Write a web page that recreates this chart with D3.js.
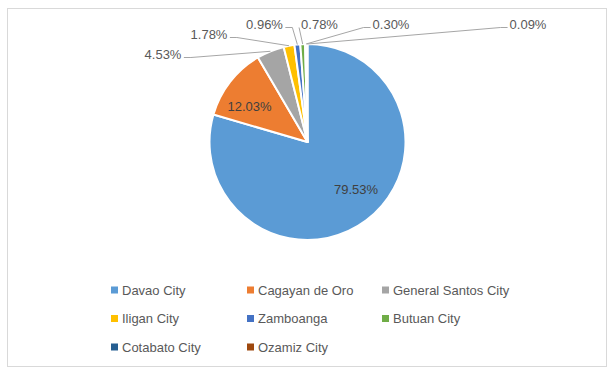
<!DOCTYPE html>
<html>
<head>
<meta charset="utf-8">
<script src="https://cdn.jsdelivr.net/npm/d3@7/dist/d3.min.js"></script>
<style>
  html, body { margin: 0; padding: 0; background: #ffffff; }
  svg { display: block; font-family: "Liberation Sans", Arial, sans-serif; }
</style>
</head>
<body>
<svg id="chart" width="616" height="375"></svg>
<script>
// ---- data ----
const categories = ["Davao City", "Cagayan de Oro", "General Santos City", "Iligan City",
                    "Zamboanga", "Butuan City", "Cotabato City", "Ozamiz City"];
const shares = [79.53, 12.03, 4.53, 1.78, 0.96, 0.78, 0.30, 0.09];
const valueLabels = ["79.53%", "12.03%", "4.53%", "1.78%", "0.96%", "0.78%", "0.30%", "0.09%"];
const colors = ["#5b9bd5", "#ed7d31", "#a5a5a5", "#ffc000", "#4472c4", "#70ad47", "#255e91", "#9e480e"];

// ---- layout (label placement, not data) ----
const W = 616, H = 375;
const cx = 307.5, cy = 142, R = 98;
const labelLayout = [
  { x: 356, y: 189, side: "in" },
  { x: 249.5, y: 106, side: "in" },
  { x: 163, y: 54, side: "right" },
  { x: 209, y: 34, side: "right" },
  { x: 264.5, y: 24, side: "right" },
  { x: 319.5, y: 24, side: "left" },
  { x: 391, y: 24, side: "left" },
  { x: 528, y: 24, side: "left" }
];

const svg = d3.select("#chart");

svg.append("rect")
  .attr("x", 7.5).attr("y", 8.5)
  .attr("width", 599).attr("height", 358)
  .attr("fill", "#ffffff")
  .attr("stroke", "#d9d9d9").attr("stroke-width", 1);

const pie = d3.pie().sort(null).value(d => d)
  .startAngle(0).endAngle(2 * Math.PI);
const arcs = pie(shares);
const arc = d3.arc().innerRadius(0).outerRadius(R);

const g = svg.append("g").attr("transform", `translate(${cx},${cy})`);
g.selectAll("path.slice")
  .data(arcs)
  .join("path")
  .attr("class", "slice")
  .attr("d", arc)
  .attr("fill", (d, i) => colors[i])
  .attr("stroke", "#ffffff")
  .attr("stroke-width", 2)
  .attr("stroke-linejoin", "round");

const labelG = svg.append("g");
arcs.forEach((a, i) => {
  const L = labelLayout[i];
  const t = labelG.append("text")
    .attr("x", L.x).attr("y", L.y)
    .attr("text-anchor", "middle")
    .attr("dominant-baseline", "central")
    .attr("font-size", 13)
    .attr("fill", L.side === "in" ? "#404040" : "#595959")
    .text(valueLabels[i]);
  if (L.side !== "in") {
    const bb = t.node().getBBox();
    const mid = (a.startAngle + a.endAngle) / 2;
    const px = cx + R * Math.sin(mid);
    const py = cy - R * Math.cos(mid);
    const ay = L.y + 3.5;
    let ax, ex;
    if (L.side === "right") { ax = bb.x + bb.width + 2; ex = ax + 7; }
    else { ax = bb.x - 2; ex = ax - 7; }
    if ((L.side === "right" && ex > px) || (L.side === "left" && ex < px)) ex = ax;
    labelG.append("polyline")
      .attr("points", `${ax},${ay} ${ex},${ay} ${px},${py}`)
      .attr("fill", "none")
      .attr("stroke", "#a6a6a6")
      .attr("stroke-width", 1);
  }
});

const legCols = [111, 247, 382];
const legRows = [290, 318.5, 347];
const leg = svg.append("g");
categories.forEach((c, i) => {
  const col = i % 3, row = Math.floor(i / 3);
  const x = legCols[col], y = legRows[row];
  leg.append("rect")
    .attr("x", x).attr("y", y - 3.5)
    .attr("width", 7).attr("height", 7)
    .attr("fill", colors[i]);
  leg.append("text")
    .attr("x", x + 11).attr("y", y)
    .attr("dominant-baseline", "central")
    .attr("font-size", 13)
    .attr("fill", "#595959")
    .text(c);
});
</script>
</body>
</html>
